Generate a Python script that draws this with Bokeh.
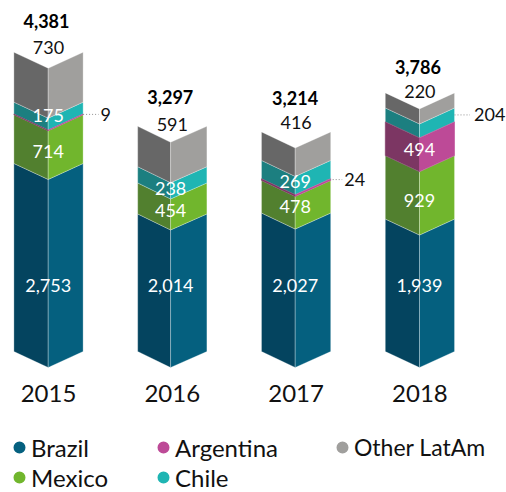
from bokeh.plotting import figure
from bokeh.models import ColumnDataSource, Legend, LegendItem, FixedTicker
from bokeh.core.properties import value
from bokeh.embed import file_html
from bokeh.resources import INLINE

years = ["2015", "2016", "2017", "2018"]
brazil = [2753, 2014, 2027, 1939]
mexico = [714, 454, 478, 929]
argentina = [9, 0, 24, 494]
chile = [175, 238, 269, 204]
other = [730, 591, 416, 220]
totals = [4381, 3297, 3214, 3786]
series_names = ["Brazil", "Mexico", "Argentina", "Chile", "Other LatAm"]
series_values = [brazil, mexico, argentina, chile, other]

FONT = "Lato"
left_colors = ["#04445f", "#52802f", "#7c3663", "#1c7f80", "#676767"]
right_colors = ["#05607f", "#71b62d", "#bd4a97", "#1fb5b3", "#a09f9d"]

PX_X = 123.8      # pixels per bar step
PX_Y = 0.0683     # pixels per value unit
HALF = 34.6 / PX_X
DEPTH = 16 / PX_Y
fold_px = [-0.3, -1.7, -0.9, -0.4]

p = figure(width=506, height=492,
           x_range=(-48 / PX_X, 458 / PX_X), y_range=(-141 / PX_Y, 351 / PX_Y),
           y_axis_location=None, output_backend="svg", toolbar_location=None,
           min_border_left=0, min_border_right=0, min_border_top=0, min_border_bottom=0)
p.grid.visible = False
p.outline_line_color = None
p.background_fill_color = None
p.border_fill_color = None

ax = p.xaxis[0]
ax.fixed_location = -DEPTH
ax.ticker = FixedTicker(ticks=list(range(len(years))))
ax.major_label_overrides = {i: y for i, y in enumerate(years)}
ax.axis_line_color = None
ax.major_tick_line_color = None
ax.minor_tick_line_color = None
ax.major_label_text_font = FONT
ax.major_label_text_font_size = "24px"
ax.major_label_text_color = "#111111"
ax.major_label_standoff = 11

# cumulative bases of each series
base = [0] * len(years)
bases = []
for vals in series_values:
    bases.append(list(base))
    base = [b + v for b, v in zip(base, vals)]

# stacked chevrons; the thin Argentina band goes last, so that it stays visible
for s in [0, 1, 3, 4, 2]:
    lx, ly, rx, ry = [], [], [], []
    for i, v in enumerate(series_values[s]):
        if v == 0:
            continue
        y0, y1 = bases[s][i], bases[s][i] + v
        xc = i + fold_px[i] / PX_X
        lx.append([i - HALF, xc, xc, i - HALF])
        ly.append([y0, y0 - DEPTH, y1 - DEPTH, y1])
        rx.append([xc, i + HALF, i + HALF, xc])
        ry.append([y0 - DEPTH, y0, y1, y1 - DEPTH])
    for xs, ys, col in ((lx, ly, left_colors[s]), (rx, ry, right_colors[s])):
        if s == 2:
            p.patches(xs, ys, fill_color=col, line_color=col, line_width=0.6)
        else:
            p.patches(xs, ys, fill_color=col, line_color="#ffffff", line_alpha=0.4, line_width=0.7)

# inside labels, nudged in pixels from the middle of each segment's centre line
nudges = [[12, -13.2, -12.8, -15.8], [-3.6, -4, -6, -3], [0, 0, 0, -5], [-8.6, -2.3, -4, 0], [0, 0, 0, 0]]
inside = dict(x=[], y=[], t=[], dy=[])
for s, vals in enumerate(series_values[:4]):
    for i, v in enumerate(vals):
        if v < 100 or (s == 3 and i == 3):
            continue
        inside["x"].append(i + fold_px[i] / PX_X)
        inside["y"].append(bases[s][i] + v / 2 - DEPTH)
        inside["t"].append(f"{v:,}")
        inside["dy"].append(nudges[s][i])
p.text("x", "y", text="t", y_offset="dy", source=ColumnDataSource(inside), text_color="#ffffff",
       text_font=value(FONT), text_font_size="18px", text_align="center", text_baseline="middle")

# labels above the bars
other_dy = [-21, -18, -25, -17]
total_dy = [-31.5, -29, -33.5, -25.5]
idx = list(range(len(years)))
p.text(idx, [t - DEPTH for t in totals], text=[f"{v:,}" for v in other], y_offset=other_dy,
       text_color="#111111", text_font=value(FONT), text_font_size="18px",
       text_align="center", text_baseline="middle")
p.text(idx, totals, text=[f"{v:,}" for v in totals], y_offset=total_dy, x_offset=[-2, -2, -1, -2],
       text_color="#000000", text_font=value(FONT), text_font_style="bold", text_font_size="18px",
       text_align="center", text_baseline="middle")

# leaders for thin segments
call = [(2, 0), (2, 2), (3, 3)]
lead_start = [0, -4, 0]
x0s, x1s, ys, labels = [], [], [], []
for (s, i), st in zip(call, lead_start):
    v = series_values[s][i]
    x0s.append(i + HALF + st / PX_X)
    x1s.append(i + HALF + (st + 15.5) / PX_X)
    ys.append(bases[s][i] + v / 2)
    labels.append(f"{v:,}")
p.segment(x0s, ys, x1s, ys, line_color="#8f8f8f", line_width=1, line_dash="1 2")
p.text(x1s, ys, text=labels, x_offset=[2, 2, 4], text_color="#111111", text_font=value(FONT),
       text_font_size="18px", text_align="left", text_baseline="middle")

# legends
all_colors = dict(zip(series_names, right_colors))
def make_legend(names, x, y, font_size):
    items = []
    for n in names:
        r = p.scatter(x=[float("nan")], y=[float("nan")], size=12, marker="circle",
                      fill_color=all_colors[n], line_color=all_colors[n], line_width=2.4)
        items.append(LegendItem(label=value(n), renderers=[r]))
    leg = Legend(items=items, location=(x, y), orientation="vertical", spacing=0, padding=0, margin=0,
                 glyph_width=24, glyph_height=30, label_standoff=0, label_height=30,
                 label_text_font=FONT, label_text_font_size=font_size, label_text_color="#111111",
                 label_text_baseline="middle", border_line_color=None, background_fill_color=None,
                 background_fill_alpha=0)
    p.add_layout(leg, "center")

make_legend(["Brazil", "Mexico"], 7, 0, "24px")
make_legend(["Argentina", "Chile"], 151, 0, "24px")
make_legend(["Other LatAm"], 330, 30, "23px")

open("out.html", "w").write(file_html(p, INLINE))
